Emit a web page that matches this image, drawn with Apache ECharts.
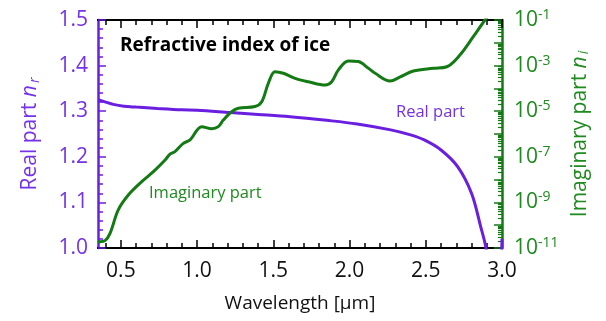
<!DOCTYPE html>
<html>
<head>
<meta charset="utf-8">
<script src="https://cdn.jsdelivr.net/npm/echarts@6/dist/echarts.min.js"></script>
<style>
  html, body { margin: 0; padding: 0; background: #fff; }
  #chart { width: 606px; height: 321px; }
</style>
</head>
<body>
<div id="chart"></div>
<script>
// wavelength in um, real part n_r
const realWl = [0.35, 0.40, 0.45, 0.52, 0.60, 0.74, 0.90, 1.00, 1.22, 1.40, 1.61, 1.85, 2.05, 2.27, 2.40, 2.49, 2.60, 2.71, 2.80, 2.86, 2.895, 2.94, 2.98, 3.00];
const realN = [1.325, 1.320, 1.315, 1.311, 1.309, 1.306, 1.303, 1.302, 1.297, 1.293, 1.288, 1.280, 1.272, 1.259, 1.248, 1.237, 1.215, 1.178, 1.120, 1.047, 1.000, 0.900, 0.920, 1.020];

// wavelength in um, imaginary part n_i
const imagWl = [0.35, 0.363, 0.396, 0.429, 0.483, 0.549, 0.637, 0.724, 0.790, 0.822, 0.855, 0.910, 0.954, 1.030, 1.096, 1.139, 1.172, 1.227, 1.271, 1.380, 1.424, 1.467, 1.511, 1.566, 1.643, 1.730, 1.840, 1.883, 1.927, 1.992, 2.058, 2.124, 2.168, 2.266, 2.332, 2.419, 2.550, 2.638, 2.724, 2.813, 2.889, 2.95];
const imagK = [1.9e-11, 1.9e-11, 2.1e-11, 4.4e-11, 4.7e-10, 2.1e-9, 8.1e-9, 2.6e-8, 7.2e-8, 1.3e-7, 1.7e-7, 3.9e-7, 5.5e-7, 2.1e-6, 1.7e-6, 2.1e-6, 4.1e-6, 9.5e-6, 1.35e-5, 1.6e-5, 2.6e-5, 1.66e-4, 5.4e-4, 4.6e-4, 2.75e-4, 1.95e-4, 1.4e-4, 1.95e-4, 6.5e-4, 1.6e-3, 1.5e-3, 7.6e-4, 4.6e-4, 2.1e-4, 3.2e-4, 5.8e-4, 7.6e-4, 8.9e-4, 2.9e-3, 1.9e-2, 1.0e-1, 3.0e-1];

// tick positions
const xMajorTicks = [0.5, 1.0, 1.5, 2.0, 2.5, 3.0];
const xMinorTicks = [];
for (let i = 4; i <= 29; i++) { if (i % 5 !== 0) xMinorTicks.push(i / 10); }
const logMinorTicks = [];
for (let e = -11; e < -1; e++) {
  for (let k = 2; k <= 9; k++) logMinorTicks.push(e + Math.log10(k));
}

const PURPLE = '#6a1ee0';
const PURPLE_TXT = '#7433e6';
const GREEN = '#147a14';
const GREEN_TXT = '#1f8a1f';
const FONT = 'Open Sans';

const chart = echarts.init(document.getElementById('chart'));

function xAxisDef(pos, ticks, len, extra) {
  return Object.assign({
    type: 'value', min: 0.35, max: 3.0, position: pos,
    splitLine: { show: false },
    axisLine: { show: true, onZero: false, lineStyle: { color: '#000', width: 2 } },
    axisTick: { show: true, inside: true, length: len, customValues: ticks, lineStyle: { color: '#000', width: 1.5 } },
    axisLabel: { show: false }
  }, extra || {});
}

chart.setOption({
  animation: false,
  grid: { left: 98, right: 104, top: 20, bottom: 73 },
  title: {
    text: 'Refractive index of ice',
    left: 115, top: 31,
    textStyle: { fontFamily: FONT, fontSize: 19, fontWeight: 'bold', color: '#000' }
  },
  graphic: [
    { type: 'text', left: 396, top: 104, style: { text: 'Real part', fill: PURPLE_TXT, font: '16.5px "Open Sans"' } },
    { type: 'text', left: 149, top: 185, style: { text: 'Imaginary part', fill: GREEN_TXT, font: '16.5px "Open Sans"' } }
  ],
  xAxis: [
    xAxisDef('bottom', xMajorTicks, 8, {
      name: 'Wavelength [μm]', nameLocation: 'middle', nameGap: 46,
      nameTextStyle: { fontFamily: FONT, fontSize: 19, color: '#111' },
      axisLabel: { show: true, margin: 13, customValues: xMajorTicks, fontSize: 21, color: '#111', fontFamily: FONT, formatter: v => v.toFixed(1) }
    }),
    xAxisDef('bottom', xMinorTicks, 5),
    xAxisDef('top', xMajorTicks, 8),
    xAxisDef('top', xMinorTicks, 5)
  ],
  yAxis: [
    {
      type: 'value', min: 1.0, max: 1.5, interval: 0.1, position: 'left',
      name: '{a|Real part }{i|n}{s|r}', nameLocation: 'middle', nameGap: 56,
      nameTextStyle: {
        rich: {
          a: { fontFamily: FONT, fontSize: 21, color: PURPLE_TXT },
          i: { fontFamily: FONT, fontSize: 21, fontStyle: 'italic', color: PURPLE_TXT },
          s: { fontFamily: FONT, fontSize: 14, fontStyle: 'italic', color: PURPLE_TXT, verticalAlign: 'bottom', padding: [9, 0, 0, 2] }
        }
      },
      splitLine: { show: false },
      axisLine: { show: true, lineStyle: { color: PURPLE, width: 2.5 } },
      axisTick: { show: true, inside: true, length: 8, lineStyle: { color: PURPLE, width: 1.5 } },
      minorTick: { show: true, splitNumber: 5, length: 5, lineStyle: { color: PURPLE, width: 1.5 } },
      axisLabel: { margin: 10, fontSize: 21, color: PURPLE_TXT, fontFamily: FONT, formatter: v => v.toFixed(1) }
    },
    {
      type: 'log', logBase: 10, min: 1e-11, max: 1e-1, interval: 1, position: 'right',
      name: '{a|Imaginary part }{i|n}{s|i}', nameLocation: 'middle', nameGap: 62, nameRotate: 90,
      nameTextStyle: {
        rich: {
          a: { fontFamily: FONT, fontSize: 21, color: GREEN_TXT },
          i: { fontFamily: FONT, fontSize: 21, fontStyle: 'italic', color: GREEN_TXT },
          s: { fontFamily: FONT, fontSize: 14, fontStyle: 'italic', color: GREEN_TXT, verticalAlign: 'bottom', padding: [9, 0, 0, 2] }
        }
      },
      splitLine: { show: false },
      axisLine: { show: true, lineStyle: { color: GREEN, width: 2.5 } },
      axisTick: { show: true, inside: true, length: 8, lineStyle: { color: GREEN, width: 1.5 } },
      axisLabel: {
        margin: 12,
        formatter: v => {
          const e = Math.round(Math.log10(v));
          if (e % 2 === 0) return '';
          return '{b|10}{s|' + e + '}';
        },
        rich: {
          b: { fontFamily: FONT, fontSize: 21, color: GREEN_TXT },
          s: { fontFamily: FONT, fontSize: 14, color: GREEN_TXT, verticalAlign: 'top', padding: [0, 0, 10, 0] }
        }
      }
    },
    {
      type: 'value', min: -11, max: -1, position: 'right',
      splitLine: { show: false },
      axisLine: { show: false },
      axisTick: { show: true, inside: true, length: 4, customValues: logMinorTicks, lineStyle: { color: GREEN, width: 1.2 } },
      axisLabel: { show: false }
    }
  ],
  series: [
    {
      name: 'Real part', type: 'line', xAxisIndex: 0, yAxisIndex: 0,
      smooth: 0.35, symbol: 'none', clip: true,
      lineStyle: { color: PURPLE, width: 3 },
      data: realWl.map((w, i) => [w, realN[i]])
    },
    {
      name: 'Imaginary part', type: 'line', xAxisIndex: 0, yAxisIndex: 1,
      smooth: 0.35, symbol: 'none', clip: true,
      lineStyle: { color: GREEN, width: 3 },
      data: imagWl.map((w, i) => [w, imagK[i]])
    }
  ]
});
</script>
</body>
</html>
